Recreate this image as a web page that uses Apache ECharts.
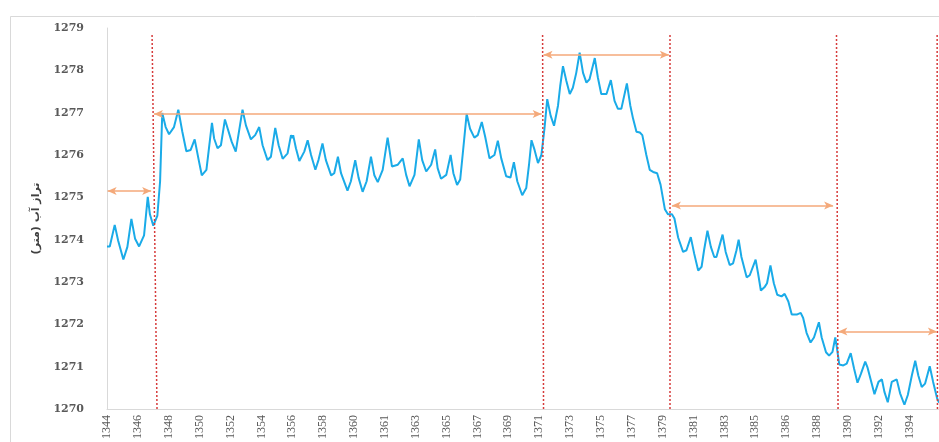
<!DOCTYPE html>
<html>
<head>
<meta charset="utf-8">
<script src="https://cdn.jsdelivr.net/npm/echarts@6/dist/echarts.min.js"></script>
<style>html,body{margin:0;padding:0;background:#fff;}#c{width:939px;height:442px;}</style>
</head>
<body>
<div id="c"></div>
<script>
// x tick labels (one per axis step)
const tickLabels = ['1344','1346','1348','1350','1352','1354','1356','1358','1360','1361','1363','1365','1367','1369','1371','1373','1375','1377','1379','1381','1383','1385','1386','1388','1390','1392','1394'];

// time position in axis-step units
const positions = [0,0.09,0.25,0.36,0.53,0.66,0.79,0.91,1.04,1.20,1.32,1.39,1.50,1.63,1.72,1.79,1.90,2.01,2.17,2.31,2.44,2.57,2.71,2.84,2.96,3.07,3.22,3.40,3.47,3.58,3.69,3.82,3.88,4.04,4.17,4.23,4.39,4.50,4.66,4.80,4.93,5.04,5.20,5.31,5.45,5.56,5.69,5.85,5.96,6.01,6.03,6.12,6.23,6.39,6.50,6.61,6.75,6.85,6.98,7.09,7.26,7.36,7.48,7.58,7.79,7.90,8.04,8.15,8.28,8.41,8.55,8.66,8.77,8.93,9.09,9.23,9.42,9.58,9.69,9.80,9.96,10.10,10.21,10.34,10.50,10.63,10.71,10.82,10.99,11.13,11.22,11.34,11.44,11.52,11.65,11.76,11.90,12.01,12.14,12.25,12.39,12.55,12.66,12.77,12.93,13.07,13.18,13.29,13.45,13.58,13.67,13.75,13.85,13.96,14.07,14.17,14.26,14.37,14.48,14.61,14.68,14.77,14.88,14.99,15.09,15.20,15.31,15.42,15.53,15.63,15.80,15.90,16.01,16.18,16.32,16.44,16.55,16.66,16.84,16.95,17.04,17.15,17.26,17.34,17.47,17.58,17.69,17.82,17.93,18.07,18.17,18.30,18.38,18.50,18.66,18.77,18.91,19.02,19.15,19.26,19.34,19.45,19.56,19.67,19.74,19.83,19.94,20.04,20.17,20.28,20.39,20.46,20.55,20.72,20.82,21.01,21.09,21.18,21.31,21.38,21.49,21.60,21.71,21.85,21.95,22.07,22.18,22.34,22.47,22.55,22.66,22.79,22.90,23.06,23.15,23.29,23.39,23.50,23.59,23.64,23.72,23.85,23.96,24.09,24.20,24.31,24.42,24.56,24.63,24.77,24.86,24.99,25.10,25.18,25.29,25.42,25.58,25.69,25.83,25.94,26.07,26.18,26.28,26.39,26.50,26.65,26.76,26.89,26.95];

// water level (m)
const levels = [1273.84,1273.84,1274.35,1273.98,1273.53,1273.83,1274.49,1274.02,1273.84,1274.10,1275.01,1274.60,1274.33,1274.56,1275.38,1276.99,1276.66,1276.49,1276.66,1277.07,1276.55,1276.09,1276.12,1276.37,1275.92,1275.52,1275.65,1276.76,1276.39,1276.16,1276.23,1276.84,1276.82,1276.31,1276.08,1276.12,1277.07,1276.70,1276.37,1276.47,1276.66,1276.23,1275.88,1275.96,1276.64,1276.23,1275.91,1276.04,1276.47,1276.40,1276.47,1276.16,1275.86,1276.08,1276.35,1276.00,1275.65,1275.88,1276.27,1275.88,1275.52,1275.57,1275.96,1275.57,1275.16,1275.38,1275.88,1275.46,1275.13,1275.38,1275.96,1275.52,1275.36,1275.65,1276.41,1275.73,1275.77,1275.92,1275.53,1275.26,1275.53,1276.37,1275.88,1275.61,1275.77,1276.13,1275.69,1275.44,1275.53,1276.00,1275.57,1275.29,1275.42,1276.00,1276.97,1276.62,1276.41,1276.47,1276.78,1276.43,1275.92,1276.00,1276.34,1275.92,1275.50,1275.47,1275.83,1275.38,1275.05,1275.22,1275.77,1276.35,1276.12,1275.81,1276.00,1276.62,1277.32,1276.93,1276.69,1277.17,1277.63,1278.10,1277.75,1277.44,1277.59,1277.94,1278.42,1277.94,1277.71,1277.79,1278.29,1277.83,1277.44,1277.44,1277.77,1277.28,1277.09,1277.09,1277.69,1277.17,1276.86,1276.55,1276.53,1276.47,1276.00,1275.65,1275.60,1275.57,1275.30,1274.72,1274.60,1274.60,1274.50,1274.05,1273.71,1273.75,1274.06,1273.67,1273.27,1273.36,1273.75,1274.21,1273.83,1273.59,1273.59,1273.83,1274.12,1273.71,1273.40,1273.44,1273.75,1274.00,1273.59,1273.11,1273.16,1273.53,1273.20,1272.80,1272.89,1272.97,1273.39,1272.97,1272.70,1272.66,1272.72,1272.54,1272.23,1272.23,1272.27,1272.15,1271.80,1271.57,1271.69,1272.05,1271.69,1271.34,1271.26,1271.35,1271.69,1271.46,1271.05,1271.03,1271.07,1271.32,1270.95,1270.62,1270.83,1271.12,1270.99,1270.60,1270.35,1270.64,1270.70,1270.41,1270.16,1270.64,1270.70,1270.37,1270.10,1270.33,1270.79,1271.14,1270.79,1270.52,1270.60,1271.01,1270.64,1270.25,1270.15];

// period boundaries (red dotted lines): [bottom position, top position]
const boundaryBottom = [1.62, 14.14, 18.23, 23.68, 26.90];
const boundaryTop = [1.46, 14.11, 18.23, 23.63, 26.89];
const boundaryTopLevel = 1278.84;

// period arrows
const arrowStart = [0.02, 1.52, 14.14, 18.30, 23.69];
const arrowEnd = [1.43, 14.08, 18.20, 23.52, 26.88];
const arrowLevel = [1275.15, 1276.97, 1278.37, 1274.81, 1271.83];

const yMin = 1270, yMax = 1279;

const lineData = positions.map((p, i) => [p, levels[i]]);

const redLines = boundaryBottom.map((b, i) => [
  { coord: [b, yMin] },
  { coord: [boundaryTop[i], boundaryTopLevel] }
]);
const arrows = arrowStart.map((s, i) => [
  { coord: [s, arrowLevel[i]] },
  { coord: [arrowEnd[i], arrowLevel[i]] }
]);

const chart = echarts.init(document.getElementById('c'), null, { renderer: 'canvas' });
chart.setOption({
  animation: false,
  backgroundColor: '#ffffff',
  graphic: [{
    type: 'rect', left: 8, top: 14, z: -1, silent: true,
    shape: { width: 960, height: 460 },
    style: { fill: 'none', stroke: '#d9d9d9', lineWidth: 1 }
  }],
  grid: { left: 107, right: 0, top: 28, bottom: 28, containLabel: false },
  xAxis: {
    type: 'value', min: 0, max: 26.95, interval: 1,
    axisLine: { show: true, lineStyle: { color: '#d9d9d9', width: 1 } },
    axisTick: { show: false },
    splitLine: { show: false },
    axisLabel: {
      rotate: 90, margin: 6, color: '#595959',
      fontFamily: 'Liberation Serif', fontSize: 12,
      showMaxLabel: false,
      formatter: function (v) {
        const k = Math.round(v);
        if (Math.abs(v - k) > 1e-6) return '';
        return tickLabels[k] || '';
      }
    }
  },
  yAxis: {
    type: 'value', min: yMin, max: yMax, interval: 1,
    name: 'تراز آب (متر)', nameLocation: 'middle', nameRotate: 90, nameGap: 65,
    nameTextStyle: { fontFamily: 'DejaVu Sans', fontWeight: 'bold', fontSize: 11, color: '#404040' },
    axisLine: { show: true, lineStyle: { color: '#d9d9d9', width: 1 } },
    axisTick: { show: false },
    splitLine: { show: false },
    axisLabel: {
      margin: 23, color: '#595959', fontFamily: 'DejaVu Serif', fontWeight: 'bold', fontSize: 11,
      formatter: function (v) { return String(v); }
    }
  },
  series: [
    {
      type: 'line', data: lineData, showSymbol: false, symbol: 'none',
      lineStyle: { color: '#1AABE8', width: 2 },
      z: 3,
      markLine: {
        silent: true, symbol: ['none', 'none'], label: { show: false },
        lineStyle: { color: '#D63B3B', width: 1.5, type: [2, 2] },
        data: redLines, animation: false
      }
    },
    {
      type: 'line', data: [], z: 4,
      markLine: {
        silent: true, symbol: ['arrow', 'arrow'], symbolSize: [6, 9], label: { show: false },
        lineStyle: { color: '#F4A97A', width: 1.5, type: 'solid' },
        itemStyle: { color: '#ED7D31' },
        data: arrows, animation: false
      }
    }
  ]
});
</script>
</body>
</html>
